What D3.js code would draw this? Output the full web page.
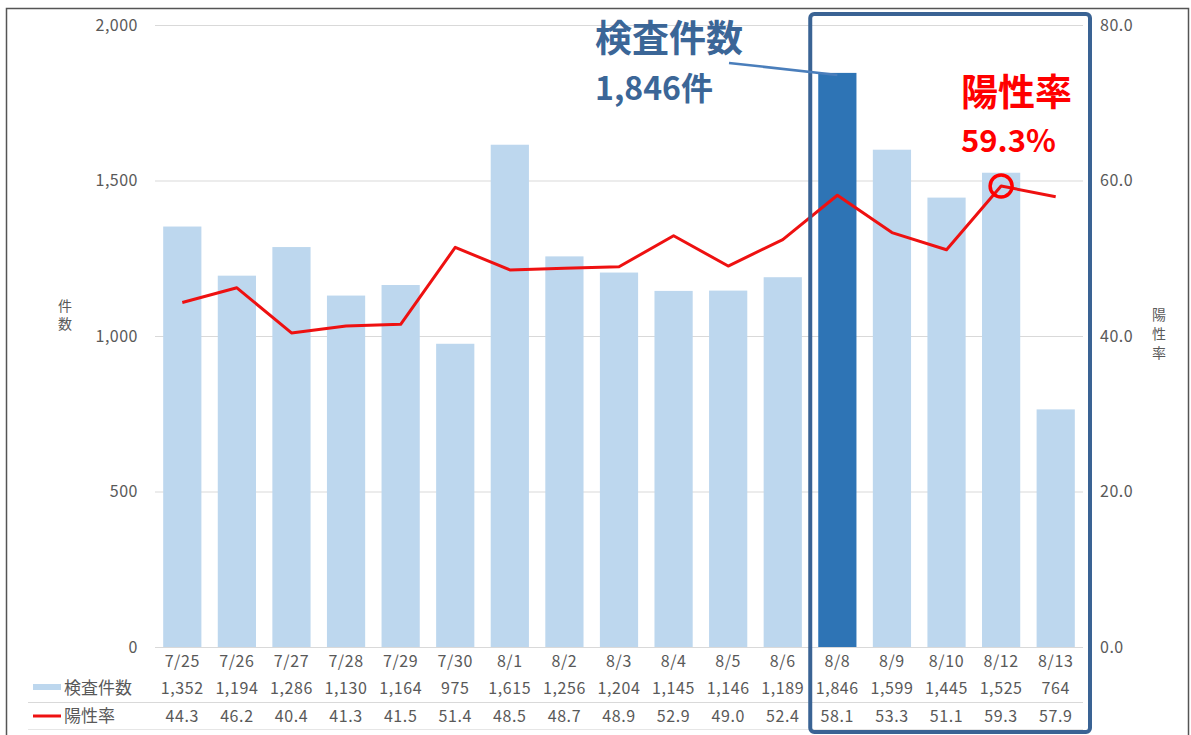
<!DOCTYPE html>
<html><head><meta charset="utf-8">
<script src="https://cdn.jsdelivr.net/npm/d3@7/dist/d3.min.js"></script>
<style>body{margin:0;background:#fff}svg{display:block}</style>
</head><body>
<script>
const categories = ["7/25","7/26","7/27","7/28","7/29","7/30","8/1","8/2","8/3","8/4","8/5","8/6","8/8","8/9","8/10","8/12","8/13"];
const counts = [1352,1194,1286,1130,1164,975,1615,1256,1204,1145,1146,1189,1846,1599,1445,1525,764];
const rates = [44.3,46.2,40.4,41.3,41.5,51.4,48.5,48.7,48.9,52.9,49.0,52.4,58.1,53.3,51.1,59.3,57.9];
const leftTicks = [0,500,1000,1500,2000];
const rightTicks = [0,20,40,60,80];
const seriesNames = ["検査件数","陽性率"];
const highlightCat = "8/8";
const circledCat = "8/12";

const W=1191,H=735;
const font='"Noto Sans CJK JP","Noto Sans",sans-serif';
const svg=d3.select("body").append("svg").attr("width",W).attr("height",H);
svg.append("rect").attr("x",6.5).attr("y",8.5).attr("width",1182).attr("height",740).attr("fill","#fff").attr("stroke","#555").attr("stroke-width",1.5);

const pl=155, pr=1083, pt=25, pb=647;
const x=d3.scaleBand().domain(categories).range([pl,pr]).paddingInner(0.3).paddingOuter(0.15);
const y=d3.scaleLinear().domain([0,2000]).range([pb,pt]);
const y2=d3.scaleLinear().domain([0,80]).range([pb,pt]);

// grid
svg.append("g").selectAll("line").data(leftTicks).join("line")
  .attr("x1",pl).attr("x2",pr).attr("y1",d=>y(d)+0.5).attr("y2",d=>y(d)+0.5)
  .attr("stroke","#d9d9d9").attr("stroke-width",1);

// left axis
const la=svg.append("g").attr("transform",`translate(${pl-17},0)`)
  .call(d3.axisLeft(y).tickValues(leftTicks).tickSize(0).tickPadding(0).tickFormat(d3.format(",")));
la.select(".domain").remove();
la.selectAll("text").attr("font-family",font).attr("font-size",16).attr("fill","#595959").attr("letter-spacing",0.5);

// right axis
const ra=svg.append("g").attr("transform",`translate(${pr+17},0)`)
  .call(d3.axisRight(y2).tickValues(rightTicks).tickSize(0).tickPadding(0).tickFormat(d3.format(".1f")));
ra.select(".domain").remove();
ra.selectAll("text").attr("font-family",font).attr("font-size",16).attr("fill","#595959").attr("letter-spacing",0.5);

// axis titles (vertical)
function vtext(str,cx,y0,step,color){
  svg.append("g").selectAll("text").data([...str]).join("text")
    .attr("x",cx).attr("y",(d,i)=>y0+i*step).attr("text-anchor","middle")
    .attr("font-family",font).attr("font-size",14).attr("fill",color).text(d=>d);
}
vtext("件数",65,311,18,"#595959");
vtext("陽性率",1159,320,19,"#595959");

// bars
svg.append("g").selectAll("rect").data(categories).join("rect")
  .attr("x",d=>x(d)).attr("width",x.bandwidth())
  .attr("y",(d,i)=>y(counts[i])).attr("height",(d,i)=>pb-y(counts[i]))
  .attr("fill",d=>d===highlightCat?"#2e74b5":"#bdd7ee");

// line
const line=d3.line().x((d,i)=>x(categories[i])+x.bandwidth()/2).y(d=>y2(d));
svg.append("path").datum(rates).attr("d",line).attr("fill","none").attr("stroke","#ee1111").attr("stroke-width",3).attr("stroke-linejoin","round");

// table
const cx=d=>x(d)+x.bandwidth()/2;
function row(data,yy,fmt){
  svg.append("g").selectAll("text").data(categories).join("text")
    .attr("x",d=>cx(d)).attr("y",yy).attr("text-anchor","middle")
    .attr("font-family",font).attr("font-size",16).attr("fill","#595959").attr("letter-spacing",0.6)
    .text((d,i)=>fmt(data[i],d));
}
row(categories,667,(v)=>v);
row(counts,694,d3.format(","));
row(rates,722,d3.format(".1f"));
svg.append("line").attr("x1",28).attr("x2",pr).attr("y1",702.5).attr("y2",702.5).attr("stroke","#d9d9d9");
svg.append("line").attr("x1",28).attr("x2",pr).attr("y1",729.5).attr("y2",729.5).attr("stroke","#e6e6e6");
// legend in table
svg.append("rect").attr("x",33).attr("y",684).attr("width",28).attr("height",6).attr("fill","#bdd7ee");
svg.append("line").attr("x1",33).attr("x2",61).attr("y1",716).attr("y2",716).attr("stroke","#ee1111").attr("stroke-width",3);
svg.append("text").attr("x",64).attr("y",694).attr("font-family",font).attr("font-size",17).attr("fill","#595959").text(seriesNames[0]);
svg.append("text").attr("x",64).attr("y",722).attr("font-family",font).attr("font-size",17).attr("fill","#595959").text(seriesNames[1]);

// highlight box
const hi=categories.indexOf(highlightCat);
const bx0=x(highlightCat)-8, bx1=pr+7;
svg.append("rect").attr("x",bx0).attr("y",14).attr("width",bx1-bx0).attr("height",718).attr("rx",4)
  .attr("fill","none").attr("stroke","#3a6394").attr("stroke-width",4);

// annotation: count
svg.append("line").attr("x1",729).attr("y1",63).attr("x2",cx(highlightCat)).attr("y2",y(counts[hi])+2)
  .attr("stroke","#4a7ebb").attr("stroke-width",2.5);
svg.append("text").attr("x",595).attr("y",52).attr("font-family",font).attr("font-weight","bold").attr("font-size",37).attr("fill","#3b6697").text(seriesNames[0]);
svg.append("text").attr("x",595).attr("y",100).attr("font-family",font).attr("font-weight","bold").attr("font-size",32).attr("fill","#3b6697").text(d3.format(",")(counts[hi])+"件");

// annotation: rate
const ci=categories.indexOf(circledCat);
svg.append("text").attr("x",961).attr("y",106).attr("font-family",font).attr("font-weight","bold").attr("font-size",37).attr("fill","#ff0000").text(seriesNames[1]);
svg.append("text").attr("x",961).attr("y",152).attr("font-family",font).attr("font-weight","bold").attr("font-size",31).attr("fill","#ff0000").text(rates[ci].toFixed(1)+"%");
svg.append("circle").attr("cx",cx(circledCat)).attr("cy",y2(rates[ci])).attr("r",11)
  .attr("fill","none").attr("stroke","#ff0000").attr("stroke-width",3.5);
</script>
</body></html>
